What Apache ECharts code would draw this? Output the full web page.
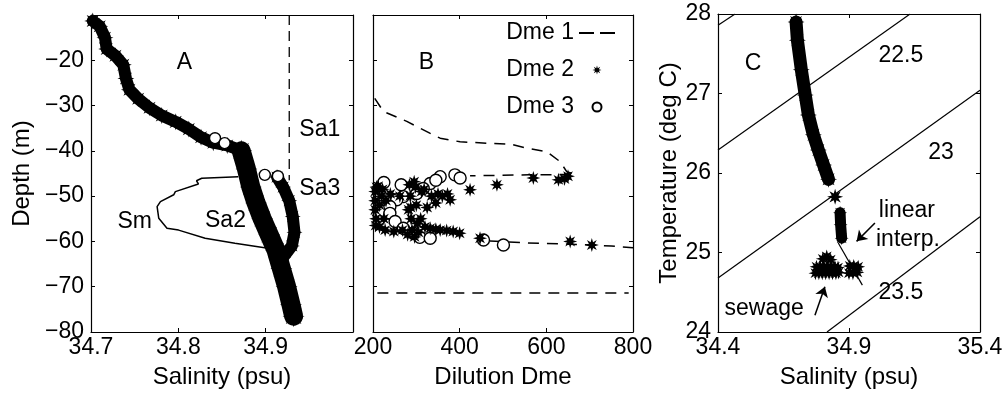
<!DOCTYPE html>
<html><head><meta charset="utf-8">
<script src="https://cdn.jsdelivr.net/npm/echarts@6/dist/echarts.min.js"></script>
<style>html,body{margin:0;padding:0;background:#fff}#c{width:1008px;height:399px}</style>
</head><body><div id="c"></div>
<script>
// ---------- Panel A : salinity (psu) vs depth (m) ----------
const profileUpper = [[34.702,-11.3],[34.710,-12.5],[34.716,-15],[34.718,-17.5],[34.728,-19],[34.737,-21],[34.740,-24],[34.744,-26.5],[34.754,-28.5],[34.767,-30.5],[34.781,-32.2],[34.797,-33.6],[34.812,-35.2],[34.826,-37],[34.840,-38.2],[34.856,-38.8],[34.870,-39.8]];
const profileSa2 = [[34.872,-40],[34.878,-44],[34.883,-48],[34.889,-51.5],[34.896,-55],[34.904,-58.5],[34.912,-62],[34.918,-66],[34.924,-70],[34.929,-74],[34.932,-76.5]];
const profileSa3 = [[34.913,-45.8],[34.920,-48],[34.927,-51],[34.931,-54.5],[34.933,-58],[34.930,-61],[34.920,-63.5]];
const sa1Line = [[34.927,-10],[34.927,-46.5]];
const smLine = [[34.8685,-45.7],[34.8268,-46.05],[34.8208,-46.6],[34.823,-47.3],[34.7966,-49.0],[34.7947,-49.7],[34.7795,-51.2],[34.7757,-52.3],[34.7776,-54.9],[34.787,-57.1],[34.8003,-57.5],[34.8307,-59.3],[34.8648,-60.4],[34.9026,-61.5]];
const circlesA = [[34.842,-37.2],[34.853,-38.3],[34.899,-45.3],[34.914,-45.6]];
const labelsA = [{name:'A',value:[34.807,-20.6]},{name:'Sa1',value:[34.962,-35.4]},{name:'Sa3',value:[34.962,-48.4]},{name:'Sm',value:[34.750,-55.7]},{name:'Sa2',value:[34.854,-55.5]}];

// ---------- Panel B : dilution Dme vs depth (m) ----------
const dme1Upper = [[204,-28.4],[224,-31.3],[278,-33.5],[331,-36.1],[355,-37.2],[401,-38],[462,-38.3],[516,-38.5],[555,-39.4],[601,-40.2],[632,-42.4],[647,-44.6],[666,-45.2],[560,-45.3],[424,-45.5]];
const dme1Lower = [[470,-59.9],[550,-60.3],[650,-60.6],[750,-61.0],[800,-61.4]];
const dme1Bottom = [[210,-71.4],[790,-71.4]];
const dme2 = [[372,-49.5],[378,-50.8],[424,-48.6],[486,-47.5],[570,-46],[628,-46.4],[642,-46.2],[650,-45.6],
  [320,-56.8],[332,-57.1],[345,-57.3],[355,-57.5],[370,-57.6],[385,-57.8],[400,-58.2],[447,-59.3],[655,-60],[705,-60.8],
  [205,-49],[205,-51],[205,-53],[207,-55],[212,-47.8],[215,-56.8],[222,-48.5],[228,-57.5],[240,-49.5],[248,-57.8],[262,-50],[268,-57.5],
  [208,-48],[206,-56.5],[215,-52],[225,-55],[230,-51],[220,-50],
  [284,-47.5],[286,-50],[287,-52.5],[288,-55],[290,-57.5],[298,-48],[300,-52],[302,-56],[312,-49],[325,-52.5],[345,-51.5],[360,-50],
  [295,-46.8],[296,-59],[280,-58.5],[305,-58],[310,-55],[282,-53],[318,-48.5],[335,-50],[350,-49.5]];
const dme3 = [[355,-45.7],[332,-47.2],[389,-45.3],[401,-46],[316,-48.3],[301,-49.4],[270,-50.1],[255,-50.8],[239,-52.3],[239,-53.8],[251,-55.6],[270,-57.1],[293,-58.2],[308,-59.1],[332,-59.3],[455,-59.7],[501,-60.8],[225,-47],[265,-47.5],[345,-46.5]];
const labelsB = [{name:'B',value:[323,-20.5]}];

// ---------- Panel C : salinity (psu) vs temperature (deg C) ----------
const S0 = 34.4;
const tsBand = [[34.698,27.9],[34.703,27.67],[34.718,27.3],[34.733,26.98],[34.745,26.73],[34.764,26.48],[34.783,26.29],[34.803,26.1],[34.822,25.92]];
const tsStar = [[34.847,25.70]];
const tsBand2 = [[34.866,25.5],[34.868,25.35],[34.872,25.18]];
const sewageBlob = [[34.772,24.74],[34.785,24.74],[34.798,24.74],[34.811,24.74],[34.824,24.74],[34.837,24.74],[34.85,24.74],[34.86,24.75],
  [34.776,24.82],[34.79,24.82],[34.804,24.82],[34.818,24.82],[34.832,24.82],[34.846,24.82],[34.858,24.81],
  [34.80,24.92],[34.815,24.95],[34.83,24.91],
  [34.9,24.74],[34.915,24.74],[34.932,24.75],[34.903,24.83],[34.918,24.83],[34.935,24.82]];
const interpLine = [[34.859,25.12],[34.951,24.59]];
const sigma22 = [[34.4,27.86],[34.465,28.0]];
const sigma225 = [[34.4,26.29],[35.133,28.0]];
const sigma23 = [[34.4,24.68],[35.4,27.04]];
const sigma235 = [[34.816,24.0],[35.4,25.45]];
const labelsC = [{name:'C',value:[34.534,27.38]},{name:'22.5',value:[35.098,27.48]},{name:'23',value:[35.251,26.26]},{name:'23.5',value:[35.098,24.49]},{name:'linear',value:[35.121,25.53]},{name:'interp.',value:[35.125,25.16]},{name:'sewage',value:[34.576,24.29]}];
const arrowsC = [[[34.999,25.37],[34.929,25.14]],[[34.77,24.21],[34.808,24.57]]];

// ---------- build ----------
const FONT = '"Liberation Sans", Arial, Helvetica, sans-serif';
const BLACK = '#000';
const STAR = 'path://M20,10 L14.16,11.72 L17.07,17.07 L11.72,14.16 L10,20 L8.28,14.16 L2.93,17.07 L5.84,11.72 L0,10 L5.84,8.28 L2.93,2.93 L8.28,5.84 L10,0 L11.72,5.84 L17.07,2.93 L14.16,8.28 Z';
const DASH2 = 'path://M0,0 L15,0 L15,2 L0,2 Z M21,0 L36,0 L36,2 L21,2 Z';
const toC = a => a.map(p => [p[0] - S0, p[1]]);
const toCItems = a => a.map(o => ({name:o.name, value:[o.value[0] - S0, o.value[1]]}));

function xAx(grid, min, max, interval, pos, labelOpt, name) {
  const ax = {gridIndex:grid, type:'value', min, max, interval, position:pos,
    axisLine:{show:true, onZero:false, lineStyle:{color:BLACK, width:1.2}},
    axisTick:{show:true, inside:true, length:4, lineStyle:{color:BLACK}},
    splitLine:{show:false},
    axisLabel: labelOpt ? Object.assign({show:true, color:BLACK, fontSize:23, fontFamily:FONT, margin:4}, labelOpt) : {show:false}};
  if (name) Object.assign(ax, {name, nameLocation:'middle', nameGap:33, nameTextStyle:{color:BLACK, fontSize:24, fontFamily:FONT}});
  return ax;
}
function yAx(grid, min, max, interval, pos, labelOpt, name, gap) {
  const ax = {gridIndex:grid, type:'value', min, max, interval, position:pos,
    axisLine:{show:true, onZero:false, lineStyle:{color:BLACK, width:1.2}},
    axisTick:{show:true, inside:true, length:4, lineStyle:{color:BLACK}},
    splitLine:{show:false},
    axisLabel: labelOpt ? Object.assign({show:true, color:BLACK, fontSize:23, fontFamily:FONT, margin:7}, labelOpt) : {show:false}};
  if (name) Object.assign(ax, {name, nameLocation:'middle', nameGap:gap, nameTextStyle:{color:BLACK, fontSize:24, fontFamily:FONT}});
  return ax;
}

const xAxis = [
  xAx(0, 34.7, 35.0, 0.1, 'bottom', {formatter:v => v.toFixed(1), showMaxLabel:false}, 'Salinity (psu)'),
  xAx(0, 34.7, 35.0, 0.1, 'top', null),
  xAx(1, 200, 800, 200, 'bottom', {formatter:v => String(v)}, 'Dilution Dme'),
  xAx(1, 200, 800, 200, 'top', null),
  xAx(2, 0, 1, 0.5, 'bottom', {formatter:v => (v + S0).toFixed(1)}, 'Salinity (psu)'),
  xAx(2, 0, 1, 0.5, 'top', null)
];
const yAxis = [
  yAx(0, -80, -10, 10, 'left', {formatter:v => String(v).replace('-', '\u2212'), showMaxLabel:false}, 'Depth (m)', 57),
  yAx(0, -80, -10, 10, 'right', null),
  yAx(1, -80, -10, 10, 'left', null),
  yAx(1, -80, -10, 10, 'right', null),
  yAx(2, 24, 28, 1, 'left', {formatter:v => String(v)}, 'Temperature (deg C)', 36),
  yAx(2, 24, 28, 1, 'right', null)
];

function thinLine(name, xi, data, width, dash) {
  return {name, type:'line', xAxisIndex:xi, yAxisIndex:xi, data, symbol:'none', silent:true,
    lineStyle:{color:BLACK, width, type: dash || 'solid', opacity:1}, itemStyle:{color:BLACK, opacity:1}, z:2};
}
function band(name, xi, data, width, starSize) {
  return {name, type:'line', xAxisIndex:xi, yAxisIndex:xi, data, symbol:STAR, symbolSize:starSize, showSymbol:true,
    clip:false, silent:true, lineStyle:{color:BLACK, width, cap:'round', join:'round', opacity:1}, itemStyle:{color:BLACK, opacity:1}, z:3};
}
function stars(name, xi, data, size, z) {
  return {name, type:'scatter', xAxisIndex:xi, yAxisIndex:xi, data, symbol:STAR, symbolSize:size, silent:true,
    itemStyle:{color:BLACK, opacity:1}, z: z || 3};
}
function circles(name, xi, data, size, z) {
  return {name, type:'scatter', xAxisIndex:xi, yAxisIndex:xi, data, symbol:'circle', symbolSize:size, silent:true,
    itemStyle:{color:'#fff', borderColor:BLACK, borderWidth:1.4, opacity:1}, z: z || 4};
}
function labels(xi, data) {
  return {name:'labels'+xi, type:'scatter', xAxisIndex:xi, yAxisIndex:xi, data, symbolSize:0, silent:true,
    itemStyle:{color:BLACK, opacity:1}, z:10,
    label:{show:true, position:'inside', formatter:'{b}', color:BLACK, opacity:1, fontSize:23, fontFamily:FONT, textBorderWidth:0}};
}

const labC = labels(4, toCItems(labelsC));
labC.markLine = {silent:true, animation:false, symbol:['none','arrow'], symbolSize:10,
  lineStyle:{color:BLACK, width:1.5, type:'solid', opacity:1}, label:{show:false},
  data: arrowsC.map(a => [{coord:[a[0][0]-S0, a[0][1]]}, {coord:[a[1][0]-S0, a[1][1]]}])};

const series = [
  // A
  thinLine('Sa1', 0, sa1Line, 1.3, [10,6]),
  thinLine('Sm', 0, smLine, 1.5),
  band('profile', 0, profileUpper, 12, 17),
  band('Sa2', 0, profileSa2, 19, 22),
  band('Sa3', 0, profileSa3, 12, 16),
  circles('circlesA', 0, circlesA, 11),
  labels(0, labelsA),
  // B
  thinLine('Dme 1', 2, dme1Upper, 1.5, [11,8]),
  thinLine('Dme 1', 2, dme1Lower, 1.5, [11,8]),
  thinLine('Dme 1', 2, dme1Bottom, 1.5, [11,8]),
  circles('Dme 3', 2, dme3, 12, 3),
  stars('Dme 2', 2, dme2, 14, 4),
  labels(2, labelsB),
  // C
  thinLine('s22', 4, toC(sigma22), 1.2),
  thinLine('s225', 4, toC(sigma225), 1.2),
  thinLine('s23', 4, toC(sigma23), 1.2),
  thinLine('s235', 4, toC(sigma235), 1.2),
  thinLine('interp', 4, toC(interpLine), 1.2),
  band('ts', 4, toC(tsBand), 13, 17),
  stars('tsStar', 4, toC(tsStar), 16),
  band('ts2', 4, toC(tsBand2), 11, 14),
  stars('sewage', 4, toC(sewageBlob), 14),
  labC
];

const chart = echarts.init(document.getElementById('c'), null, {renderer:'canvas'});
chart.setOption({
  animation:false,
  backgroundColor:'#fff',
  textStyle:{fontFamily:FONT},
  grid:[
    {left:91, top:15, width:262, height:317},
    {left:373, top:15, width:260, height:317},
    {left:718, top:14, width:262, height:318}
  ],
  legend:{orient:'vertical', right:388, top:16, align:'right', itemWidth:36, itemHeight:9, itemGap:13,
    selectedMode:false, textStyle:{fontSize:23, color:BLACK, fontFamily:FONT, lineHeight:24},
    data:[{name:'Dme 1', icon:DASH2}, {name:'Dme 2', icon:STAR}, {name:'Dme 3', icon:'circle'}]},
  xAxis, yAxis, series
});
</script></body></html>
